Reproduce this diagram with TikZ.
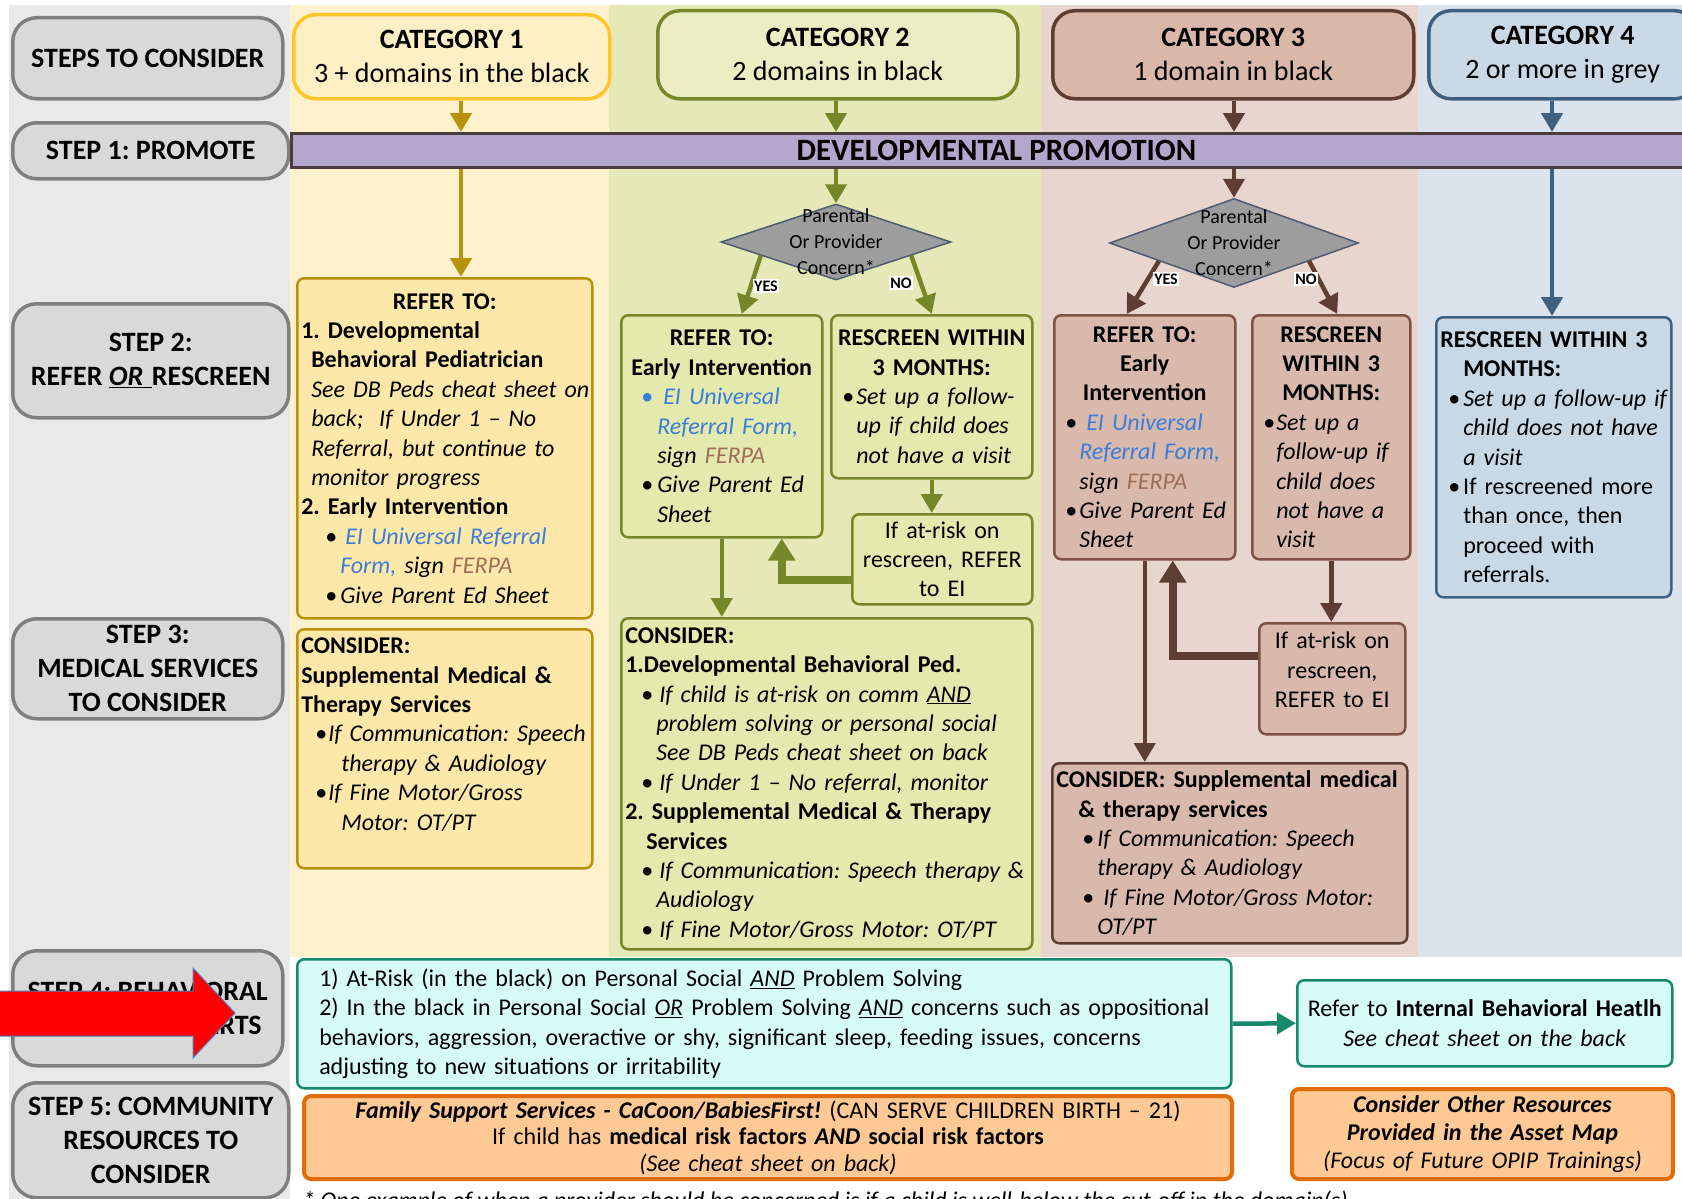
\documentclass[tikz,border=0pt]{standalone}
\usepackage{fontspec}
\setmainfont{Carlito}
\usetikzlibrary{arrows.meta,shapes.geometric,calc}

\definecolor{colgrey}{HTML}{E9E9E9}
\definecolor{stepfill}{HTML}{D9D9D9}
\definecolor{stepline}{HTML}{7F7F7F}
\definecolor{col1}{HTML}{FEF1CD}
\definecolor{cat1fill}{HTML}{FEEFC4}
\definecolor{cat1line}{HTML}{FFC62C}
\definecolor{pan1}{HTML}{FDE8A9}
\definecolor{line1}{HTML}{B8910D}
\definecolor{col2}{HTML}{E5E9B8}
\definecolor{cat2fill}{HTML}{EAEEC2}
\definecolor{pan2}{HTML}{E4E9AE}
\definecolor{line2}{HTML}{76872A}
\definecolor{col3}{HTML}{E7D5CE}
\definecolor{cat3fill}{HTML}{D9B8AA}
\definecolor{pan3}{HTML}{D8B9AB}
\definecolor{line3}{HTML}{5E3D33}
\definecolor{pan3line}{HTML}{7E5244}
\definecolor{col4}{HTML}{DBE3ED}
\definecolor{cat4fill}{HTML}{CBD8E6}
\definecolor{pan4}{HTML}{C9D8E5}
\definecolor{line4}{HTML}{40607F}
\definecolor{barfill}{HTML}{B4A7CD}
\definecolor{barline}{HTML}{4B3B3D}
\definecolor{diafill}{HTML}{9D9D9D}
\definecolor{diaedge}{HTML}{4E5B70}
\definecolor{aqua}{HTML}{D7FCF5}
\definecolor{teal4}{HTML}{178A6C}
\definecolor{peach}{HTML}{FFC995}
\definecolor{orange5}{HTML}{E36C0A}
\definecolor{eiblue}{HTML}{3B7DD8}
\definecolor{ferpa}{HTML}{A06D58}
\definecolor{alertred}{HTML}{FF0000}
\definecolor{alertedge}{HTML}{4F81BD}

\frenchspacing
\hyphenpenalty=10000
\exhyphenpenalty=10000
% bullet lines and centred lines inside the boxes
\newcommand\dotb[2]{\hspace*{#1}\makebox[#2][l]{\textbullet}}
\newcommand\dotblue[2]{\hspace*{#1}\makebox[#2][l]{\textcolor{eiblue}{\textbullet}}}
\newcommand\eiform[1]{\textcolor{eiblue}{\textit{#1}}}
\newcommand\ferpa{\textcolor{ferpa}{\textit{FERPA}}}
\newcommand\ctrline[1]{\hfill#1\hfill\null}

\begin{document}
\begin{tikzpicture}[x=1pt, y=-1pt,
    stepbox/.style={draw=stepline, fill=stepfill, line width=3.5pt,
        rounded corners=24pt, anchor=north west, inner sep=0pt, align=center,
        font=\fontsize{28}{34}\selectfont\bfseries},
    catbox/.style={line width=3.5pt, rounded corners=22pt, anchor=north west,
        inner sep=0pt, align=center, font=\fontsize{28}{34}\selectfont},
    box/.style={line width=2.5pt, rounded corners=7pt, anchor=north west,
        inner sep=4pt, font=\fontsize{24}{29.4}\selectfont},
    lbox/.style={box, align=left,
        execute at begin node={\rightskip=0pt plus 2em minus 24pt}},
    cbox/.style={box, align=center},
    decide/.style={diamond, draw=diaedge, fill=diafill, line width=1.5pt, inner sep=0pt},
    asktext/.style={align=center, font=\fontsize{20}{26}\selectfont},
    yn/.style={fill=white, inner sep=1.5pt, font=\fontsize{16}{16}\selectfont\bfseries},
    flow/.style={line width=4.5pt, -{Triangle[width=21pt,length=19pt]}},
    backflow/.style={line width=8pt, -{Triangle[width=26pt,length=22pt]}},
]
\useasboundingbox (0,0) rectangle (1682,1199);
\fill[white] (0,0) rectangle (1682,1199);

% column backgrounds
\fill[colgrey] (9,5) rectangle (290,1199);
\fill[col1] (290,5) rectangle (609,957);
\fill[col2] (609,5) rectangle (1041,957);
\fill[col3] (1041,5) rectangle (1418,957);
\fill[col4] (1418,5) rectangle (1682,957);

% steps
\node[stepbox, minimum width=270pt, minimum height=81pt] (st0) at (11,16) {STEPS TO CONSIDER};
\node[stepbox, minimum width=276pt, minimum height=56pt] (st1) at (11,121) {STEP 1: PROMOTE};
\node[stepbox, minimum width=276pt, minimum height=114pt] (st2) at (11,302)
    {STEP 2:\\REFER \underline{\textit{OR}\hspace{0.3em}}RESCREEN};
\node[stepbox, minimum width=270pt, minimum height=100pt] (st3) at (11,617)
    {STEP 3:\\MEDICAL SERVICES\\TO CONSIDER};
\node[stepbox, minimum width=270pt, minimum height=115pt] (st4) at (11,949)
    {STEP 4: BEHAVIORAL\\\hspace*{143pt}ALERTS};
\node[stepbox, minimum width=276pt, minimum height=115pt] (st5) at (11,1081)
    {STEP 5: COMMUNITY\\RESOURCES TO\\CONSIDER};

% categories
\node[catbox, draw=cat1line, fill=cat1fill, minimum width=316pt, minimum height=84pt] (cat1) at (292,13)
    {\textbf{CATEGORY 1}\\3 + domains in the black};
\node[catbox, draw=line2, fill=cat2fill, minimum width=360pt, minimum height=88pt] (cat2) at (656,9)
    {\textbf{CATEGORY 2}\\2 domains in black};
\node[catbox, draw=line3, fill=cat3fill, minimum width=361pt, minimum height=88pt] (cat3) at (1051,9)
    {\textbf{CATEGORY 3}\\1 domain in black};
\node[catbox, draw=line4, fill=cat4fill, minimum width=268pt, minimum height=88pt] (cat4) at (1427,9)
    {\textbf{CATEGORY 4}\\2 or more in grey};

\node[draw=barline, fill=barfill, line width=3pt, anchor=north west, minimum width=1410pt,
    minimum height=34pt, inner sep=0pt, font=\fontsize{31}{31}\selectfont\bfseries] (bar) at (290,132)
    {DEVELOPMENTAL PROMOTION};

\coordinate (ax1) at (461,0);
\coordinate (ax4) at (1552,0);

% category 1
\node[lbox, draw=line1, fill=pan1, text width=287pt, minimum height=340pt] (ref1) at (296,277) {%
    \ctrline{\textbf{REFER TO:}}\\
    \textbf{1. Developmental}\\
    \hspace*{10pt}\textbf{Behavioral Pediatrician}\\
    \hspace*{10pt}\textit{See DB Peds cheat sheet on}\\
    \hspace*{10pt}\textit{back;\ \ If Under 1 – No}\\
    \hspace*{10pt}\textit{Referral, but continue to}\\
    \hspace*{10pt}\textit{monitor progress}\\
    \textbf{2. Early Intervention}\\
    \dotb{24pt}{20pt}\eiform{EI Universal Referral}\\
    \hspace*{39pt}\eiform{Form,} \textit{sign} \ferpa\\
    \dotb{24pt}{15pt}\textit{Give Parent Ed Sheet}};
\node[lbox, draw=line1, fill=pan1, text width=287pt, minimum height=239pt] (cons1) at (296,628) {%
    \textbf{CONSIDER:}\\
    \textbf{Supplemental Medical \&}\\
    \textbf{Therapy Services}\\
    \dotb{14pt}{13pt}\textit{If Communication: Speech}\\
    \hspace*{40pt}\textit{therapy \& Audiology}\\
    \dotb{14pt}{13pt}\textit{If Fine Motor/Gross}\\
    \hspace*{40pt}\textit{Motor: OT/PT}\\
    \mbox{}};

% category 2
\node[decide, minimum width=230pt, minimum height=76pt] (dia2) at (836,242) {};
\node[asktext] (ask2) at (dia2) {Parental\\Or Provider\\Concern*};
\node[lbox, draw=line2, fill=pan2, text width=193pt, minimum height=222pt] (ref2) at (620,314) {%
    \ctrline{\textbf{REFER TO:}}\\
    \ctrline{\textbf{Early Intervention}}\\
    \dotblue{16pt}{22pt}\eiform{EI Universal}\\
    \hspace*{32pt}\eiform{Referral Form,}\\
    \hspace*{32pt}\textit{sign} \ferpa\\
    \dotb{16pt}{16pt}\textit{Give Parent Ed}\\
    \hspace*{32pt}\textit{Sheet}};
\node[lbox, draw=line2, fill=pan2, text width=193pt, minimum height=163pt] (res2) at (830,314) {%
    \ctrline{\textbf{RESCREEN WITHIN}}\\
    \ctrline{\textbf{3 MONTHS:}}\\
    \dotb{7pt}{14pt}\textit{Set up a follow-}\\
    \hspace*{21pt}\textit{up if child does}\\
    \hspace*{21pt}\textit{not have a visit}};
\node[cbox, draw=line2, fill=pan2, text width=172pt, minimum height=90pt] (at2) at (851,513)
    {If at-risk on\\rescreen, REFER\\to EI};
\node[lbox, draw=line2, fill=pan2, text width=403pt, minimum height=331pt] (cons2) at (620,617) {%
    \textbf{CONSIDER:}\\
    \textbf{1.Developmental Behavioral Ped.}\\
    \dotb{16pt}{18pt}\textit{If child is at-risk on comm \underline{AND}}\\
    \hspace*{31pt}\textit{problem solving or personal social}\\
    \hspace*{31pt}\textit{See DB Peds cheat sheet on back}\\
    \dotb{16pt}{18pt}\textit{If Under 1 – No referral, monitor}\\
    \textbf{2. Supplemental Medical \& Therapy}\\
    \hspace*{21pt}\textbf{Services}\\
    \dotb{16pt}{18pt}\textit{If Communication: Speech therapy \&}\\
    \hspace*{31pt}\textit{Audiology}\\
    \dotb{16pt}{18pt}\textit{If Fine Motor/Gross Motor: OT/PT}};

% category 3
\node[decide, minimum width=249pt, minimum height=89pt] (dia3) at (1234,243) {};
\node[asktext] (ask3) at (dia3) {Parental\\Or Provider\\Concern*};
\node[lbox, draw=pan3line, fill=pan3, text width=173pt, minimum height=244pt] (ref3) at (1053,314) {%
    \ctrline{\textbf{REFER TO:}}\\
    \ctrline{\textbf{Early}}\\
    \ctrline{\textbf{Intervention}}\\
    \dotb{7pt}{21pt}\eiform{EI Universal}\\
    \hspace*{21pt}\eiform{Referral Form,}\\
    \hspace*{21pt}\textit{sign} \ferpa\\
    \dotb{7pt}{14pt}\textit{Give Parent Ed}\\
    \hspace*{21pt}\textit{Sheet}};
\node[lbox, draw=pan3line, fill=pan3, text width=150pt, minimum height=244pt] (res3) at (1251,314) {%
    \ctrline{\textbf{RESCREEN}}\\
    \ctrline{\textbf{WITHIN 3}}\\
    \ctrline{\textbf{MONTHS:}}\\
    \dotb{7pt}{13pt}\textit{Set up a}\\
    \hspace*{20pt}\textit{follow-up if}\\
    \hspace*{20pt}\textit{child does}\\
    \hspace*{20pt}\textit{not have a}\\
    \hspace*{20pt}\textit{visit}};
\node[cbox, draw=pan3line, fill=pan3, text width=138pt, minimum height=111pt] (at3) at (1258,622)
    {If at-risk on\\rescreen,\\REFER to EI\\[-12pt]\mbox{}};
\node[lbox, draw=line3, fill=pan3, text width=347pt, minimum height=180pt] (cons3) at (1051,762) {%
    \textbf{CONSIDER: Supplemental medical}\\
    \hspace*{22pt}\textbf{\& therapy services}\\
    \dotb{26pt}{15pt}\textit{If Communication: Speech}\\
    \hspace*{41pt}\textit{therapy \& Audiology}\\
    \dotb{26pt}{21pt}\textit{If Fine Motor/Gross Motor:}\\
    \hspace*{41pt}\textit{OT/PT}};

% category 4
\node[lbox, draw=line4, fill=pan4, text width=227pt, minimum height=280pt] (res4) at (1435,316) {%
    \textbf{RESCREEN WITHIN 3}\\
    \hspace*{23pt}\textbf{MONTHS:}\\
    \dotb{8pt}{15pt}\textit{Set up a follow-up if}\\
    \hspace*{23pt}\textit{child does not have}\\
    \hspace*{23pt}\textit{a visit}\\
    \dotb{8pt}{15pt}If rescreened more\\
    \hspace*{23pt}than once, then\\
    \hspace*{23pt}proceed with\\
    \hspace*{23pt}referrals.};

% step 4 and step 5
\node[lbox, draw=teal4, fill=aqua, inner xsep=22pt, text width=890pt, minimum height=129pt] (s4a) at (296,958) {%
    1) At-Risk (in the black) on Personal Social \underline{\textit{AND}} Problem Solving\\
    2) In the black in Personal Social \underline{\textit{OR}} Problem Solving \underline{\textit{AND}} concerns such as oppositional\\
    behaviors, aggression, overactive or shy, significant sleep, feeding issues, concerns\\
    adjusting to new situations or irritability};
\node[cbox, draw=teal4, fill=aqua, text width=367pt, minimum height=86pt] (s4b) at (1296,979)
    {Refer to \textbf{Internal Behavioral Heatlh}\\\textit{See cheat sheet on the back}};
\node[cbox, draw=orange5, fill=peach, line width=4pt, text width=920pt, minimum height=83pt,
    font=\fontsize{24}{26.5}\selectfont] (s5a) at (302,1094)
    {\textbf{\textit{Family Support Services - CaCoon/BabiesFirst!}} (CAN SERVE CHILDREN BIRTH – 21)\\
     If child has \textbf{medical risk factors} \textbf{\textit{AND}} \textbf{social risk factors}\\
     \textit{(See cheat sheet on back)}};
\node[cbox, draw=orange5, fill=peach, line width=4pt, text width=373pt, minimum height=90pt,
    font=\fontsize{24}{28}\selectfont] (s5b) at (1290,1087)
    {\textbf{\textit{Consider Other Resources}}\\\textbf{\textit{Provided in the Asset Map}}\\
     \textit{(Focus of Future OPIP Trainings)}};

\node[anchor=base west, inner sep=0pt, font=\fontsize{24}{29}\selectfont\itshape] (foot) at (303,1208)
    {* One example of when a provider should be concerned is if a child is well-below the cut-off in the domain(s)};

% arrows
\draw[flow, draw=line1] (cat1.south -| ax1) -- (bar.north -| ax1);
\draw[flow, draw=line1] (bar.south -| ax1) -- (ref1.north -| ax1);
\draw[flow, draw=line2] (cat2.south -| dia2) -- (bar.north -| dia2);
\draw[flow, draw=line2] (bar.south -| dia2) -- (dia2.north);
\draw[flow, draw=line3] (cat3.south -| dia3) -- (bar.north -| dia3);
\draw[flow, draw=line3] (bar.south -| dia3) -- (dia3.north);
\draw[flow, draw=line4] (cat4.south -| ax4) -- (bar.north -| ax4);
\draw[flow, draw=line4] (bar.south -| ax4) -- (res4.north -| ax4);

\draw[flow, draw=line2] ($(dia2.west)!0.35!(dia2.south)$) -- ([xshift=20pt]ref2.north);
\draw[flow, draw=line2] ($(dia2.east)!0.35!(dia2.south)$) -- (res2.north);
\draw[flow, draw=line3] ($(dia3.west)!0.4!(dia3.south)$) -- ([xshift=-18pt]ref3.north);
\draw[flow, draw=line3] ($(dia3.east)!0.4!(dia3.south)$) -- ([xshift=6pt]res3.north);

\node[yn] (yes2) at (766,286) {YES};
\node[yn] (no2) at (901,283) {NO};
\node[yn] (yes3) at (1166,279) {YES};
\node[yn] (no3) at (1306,279) {NO};

\draw[flow, draw=line2] (res2.south) -- (res2.south |- at2.north);
\draw[flow, draw=line2] (ref2.south) -- (ref2.south |- cons2.north);
\draw[backflow, draw=line2] ([yshift=-21pt]at2.west) -| ([xshift=60pt]ref2.south);
\draw[flow, draw=line3] (res3.south) -- (res3.south |- at3.north);
\draw[flow, draw=line3] (ref3.south) -- (ref3.south |- cons3.north);
\draw[backflow, draw=line3] ([yshift=23pt]at3.west) -| ([xshift=28pt]ref3.south);

\draw[flow, draw=teal4] (s4a.east) -- (s4b.west);

% red block arrow over step 4
\filldraw[fill=alertred, draw=alertedge, line width=1pt]
    (-2,991) -- (193,991) -- (193,968) -- (235,1013) -- (193,1058) -- (193,1036) -- (-2,1036) -- cycle;
\end{tikzpicture}
\end{document}
